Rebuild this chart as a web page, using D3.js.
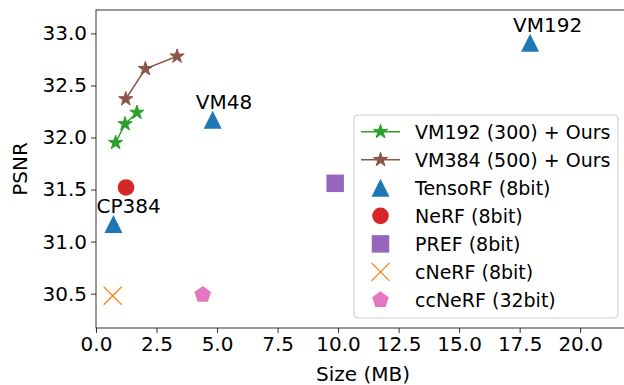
<!DOCTYPE html>
<html>
<head>
<meta charset="utf-8">
<script src="https://cdn.jsdelivr.net/npm/d3@7"></script>
<style>
  body { margin: 0; background: #fff; }
  svg { font-family: "DejaVu Sans", sans-serif; }
</style>
</head>
<body>
<svg id="chart" width="624" height="385"></svg>
<script>
// --- data ---
const ours192Size = [0.81, 1.20, 1.69];
const ours192Psnr = [31.95, 32.13, 32.24];
const ours384Size = [1.23, 2.04, 3.35];
const ours384Psnr = [32.37, 32.66, 32.78];

const tensoNames = ["CP384", "VM48", "VM192"];
const tensoSize = [0.72, 4.82, 17.93];
const tensoPsnr = [31.17, 32.17, 32.91];

const nerfPoint = [1.24, 31.52];
const prefPoint = [9.88, 31.56];
const cnerfPoint = [0.69, 30.48];
const ccnerfPoint = [4.41, 30.49];

const xTicks = [0, 2.5, 5, 7.5, 10, 12.5, 15, 17.5, 20];
const yTicks = [30.5, 31.0, 31.5, 32.0, 32.5, 33.0];

const legendLabels = ["VM192 (300) + Ours", "VM384 (500) + Ours", "TensoRF (8bit)",
  "NeRF (8bit)", "PREF (8bit)", "cNeRF (8bit)", "ccNeRF (32bit)"];

// --- layout ---
const svg = d3.select("#chart");
const margin = {left: 96, top: 10, right: 631, bottom: 328};

const x = d3.scaleLinear().domain([0, 22.1]).range([margin.left, margin.right]);
const y = d3.scaleLinear().domain([30.17, 33.225]).range([margin.bottom, margin.top]);

// marker shapes (size = matplotlib markersize in px)
function starPath(m) {
  const R = m / 2, r = R * 0.381966, pts = [];
  for (let i = 0; i < 10; i++) {
    const a = -Math.PI / 2 + i * Math.PI / 5, rr = i % 2 ? r : R;
    pts.push([rr * Math.cos(a), rr * Math.sin(a)]);
  }
  return "M" + pts.join("L") + "Z";
}
function pentagonPath(m) {
  const R = m / 2, pts = [];
  for (let i = 0; i < 5; i++) {
    const a = -Math.PI / 2 + i * 2 * Math.PI / 5;
    pts.push([R * Math.cos(a), R * Math.sin(a)]);
  }
  return "M" + pts.join("L") + "Z";
}
function trianglePath(m) {
  const h = m / 2;
  return `M0,${-h}L${h},${h}L${-h},${h}Z`;
}
function squarePath(m) {
  const h = m / 2;
  return `M${-h},${-h}H${h}V${h}H${-h}Z`;
}
function crossPath(m) {
  const h = m / 2;
  return `M${-h},${-h}L${h},${h}M${-h},${h}L${h},${-h}`;
}

const styles = [
  {color: "#2ca02c", path: starPath(15), line: true, edge: 1},
  {color: "#8c564b", path: starPath(15), line: true, edge: 1},
  {color: "#1f77b4", path: trianglePath(18)},
  {color: "#d62728", circle: 8.3},
  {color: "#9467bd", path: squarePath(17.5)},
  {color: "#ff7f0e", path: crossPath(18), stroke: true},
  {color: "#e377c2", path: pentagonPath(17.5)}
];

function drawMarker(g, st, cx, cy) {
  if (st.circle) {
    g.append("circle").attr("cx", cx).attr("cy", cy).attr("r", st.circle).attr("fill", st.color);
  } else if (st.stroke) {
    g.append("path").attr("d", st.path).attr("transform", `translate(${cx},${cy})`)
      .attr("fill", "none").attr("stroke", st.color).attr("stroke-width", 1.2);
  } else {
    g.append("path").attr("d", st.path).attr("transform", `translate(${cx},${cy})`)
      .attr("fill", st.color)
      .attr("stroke", st.edge ? st.color : "none").attr("stroke-width", st.edge || 0)
      .attr("stroke-linejoin", "miter");
  }
}

// axes
const xAxis = d3.axisBottom(x).tickValues(xTicks).tickFormat(d3.format(".1f")).tickSize(5).tickPadding(4);
const yAxis = d3.axisLeft(y).tickValues(yTicks).tickFormat(d3.format(".1f")).tickSize(5).tickPadding(4);

const gx = svg.append("g").attr("transform", `translate(0,${margin.bottom})`).call(xAxis);
const gy = svg.append("g").attr("transform", `translate(${margin.left},0)`).call(yAxis);
[gx, gy].forEach(g => {
  g.select(".domain").remove();
  g.selectAll("line").attr("stroke", "#000").attr("stroke-width", 0.8);
  g.selectAll("text").attr("font-size", 20).attr("fill", "#000")
    .attr("font-family", "DejaVu Sans, sans-serif");
});

// spines
svg.append("rect")
  .attr("x", margin.left).attr("y", margin.top)
  .attr("width", margin.right - margin.left).attr("height", margin.bottom - margin.top)
  .attr("fill", "none").attr("stroke", "#000").attr("stroke-width", 0.8);

// axis labels
svg.append("text").attr("x", 363).attr("y", 381).attr("text-anchor", "middle")
  .attr("font-size", 20).text("Size (MB)");
svg.append("text").attr("transform", "translate(27,169) rotate(-90)").attr("text-anchor", "middle")
  .attr("font-size", 20).text("PSNR");

const plot = svg.append("g");

// lines for ours
const line = d3.line().x(d => x(d[0])).y(d => y(d[1]));
[[ours192Size, ours192Psnr, styles[0]], [ours384Size, ours384Psnr, styles[1]]].forEach(([xs, ys, st]) => {
  const pts = xs.map((v, i) => [v, ys[i]]);
  plot.append("path").attr("d", line(pts)).attr("fill", "none")
    .attr("stroke", st.color).attr("stroke-width", 1.5);
  pts.forEach(p => drawMarker(plot, st, x(p[0]), y(p[1])));
});

// TensoRF points with names
tensoSize.forEach((v, i) => {
  drawMarker(plot, styles[2], x(v), y(tensoPsnr[i]));
  plot.append("text").attr("x", x(v - 0.7)).attr("y", y(tensoPsnr[i] + 0.1))
    .attr("font-size", 20).text(tensoNames[i]);
});

drawMarker(plot, styles[3], x(nerfPoint[0]), y(nerfPoint[1]));
drawMarker(plot, styles[4], x(prefPoint[0]), y(prefPoint[1]));
drawMarker(plot, styles[5], x(cnerfPoint[0]), y(cnerfPoint[1]));
drawMarker(plot, styles[6], x(ccnerfPoint[0]), y(ccnerfPoint[1]));

// legend
const lg = svg.append("g").attr("transform", "translate(354,115)");
lg.append("rect").attr("width", 264).attr("height", 203).attr("rx", 4)
  .attr("fill", "#fff").attr("fill-opacity", 0.8)
  .attr("stroke", "#ccc").attr("stroke-width", 1);
legendLabels.forEach((lab, i) => {
  const cy = 16.7 + i * 28.05;
  const st = styles[i];
  if (st.line) {
    lg.append("line").attr("x1", 7).attr("x2", 46).attr("y1", cy).attr("y2", cy)
      .attr("stroke", st.color).attr("stroke-width", 1.5);
  }
  drawMarker(lg, st, 26.5, cy);
  lg.append("text").attr("x", 61).attr("y", cy).attr("dy", "0.36em")
    .attr("font-size", 19).text(lab);
});
</script>
</body>
</html>
